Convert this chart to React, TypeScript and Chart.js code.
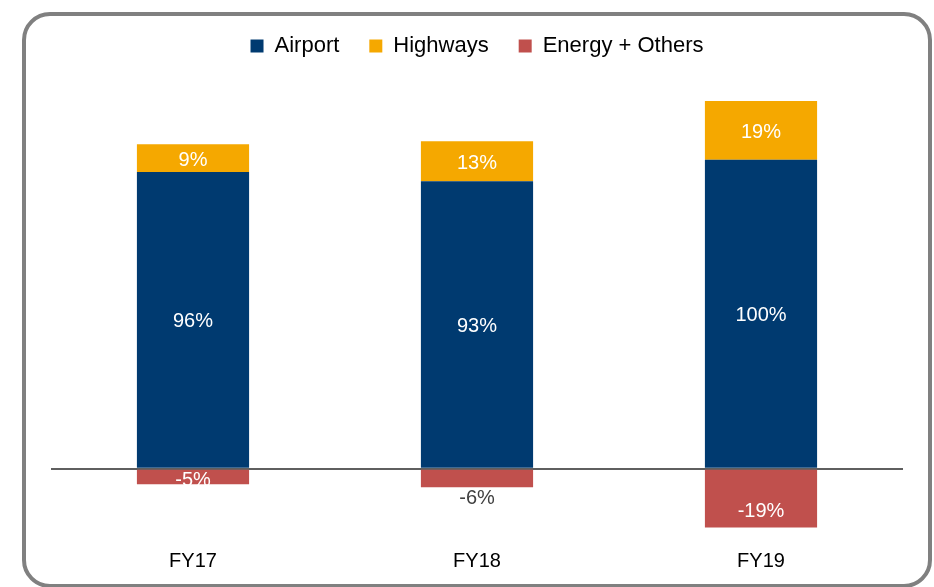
import React, { useEffect, useRef } from 'react';
import { Chart, registerables } from 'chart.js';

Chart.register(...registerables);

const categories = ['FY17', 'FY18', 'FY19'];
const airport = [96, 93, 100];
const highways = [9, 13, 19];
const energyOthers = [-5, -6, -19];

const FONT = '"Liberation Sans", Arial, sans-serif';

const barLabelPlugin = {
  id: 'barLabels',
  afterDatasetsDraw(chart: any) {
    const ctx = chart.ctx;
    ctx.save();
    ctx.font = `20px ${FONT}`;
    ctx.textAlign = 'center';
    ctx.textBaseline = 'middle';
    chart.data.datasets.forEach((ds: any, di: number) => {
      const meta = chart.getDatasetMeta(di);
      meta.data.forEach((el: any, i: number) => {
        const v = ds.data[i];
        const { x, y, base } = el.getProps(['x', 'y', 'base'], true);
        const anchor = ds.labelAnchor ? ds.labelAnchor[i] : 'center';
        let ty = (y + base) / 2 + 2;
        let color = '#ffffff';
        if (anchor === 'outside') {
          ty = Math.max(y, base) + 11;
          color = '#404040';
        } else if (anchor === 'end') {
          ty = Math.max(y, base) - 16;
        } else if (anchor === 'lowcenter') {
          ty = (y + base) / 2 + 4;
        }
        ctx.fillStyle = color;
        ctx.fillText(`${v}%`, x, ty);
      });
    });
    ctx.restore();
  },
};

export default function App() {
  const canvasRef = useRef<HTMLCanvasElement | null>(null);

  useEffect(() => {
    if (!canvasRef.current) return;
    const chart = new Chart(canvasRef.current, {
      type: 'bar',
      data: {
        labels: categories,
        datasets: [
          {
            label: 'Airport',
            data: airport,
            backgroundColor: '#003A70',
            borderWidth: 0,
          },
          {
            label: 'Highways',
            data: highways,
            backgroundColor: '#F5A800',
            borderWidth: 0,
          },
          {
            label: 'Energy + Others',
            data: energyOthers,
            backgroundColor: '#C0504D',
            borderWidth: 0,
            labelAnchor: ['lowcenter', 'outside', 'end'],
          } as any,
        ],
      },
      options: {
        responsive: false,
        animation: false,
        layout: { padding: { left: 51, right: 31, top: 5, bottom: 11 } },
        datasets: {
          bar: { categoryPercentage: 1, barPercentage: 0.395 },
        },
        scales: {
          x: {
            stacked: true,
            grid: { display: false, drawTicks: false },
            border: { display: false },
            ticks: {
              color: '#000000',
              font: { family: FONT, size: 20 },
              padding: 3,
            },
          },
          y: {
            stacked: true,
            min: -25,
            max: 130,
            display: true,
            border: { display: false },
            ticks: { display: false, stepSize: 5 },
            grid: {
              drawTicks: false,
              color: (c: any) => (c.tick && c.tick.value === 0 ? '#5f5f5f' : 'rgba(0,0,0,0)'),
              lineWidth: (c: any) => (c.tick && c.tick.value === 0 ? 2 : 0),
            },
          },
        },
        plugins: {
          legend: {
            position: 'top',
            labels: {
              boxWidth: 13,
              boxHeight: 13,
              padding: 30,
              color: '#000000',
              font: { family: FONT, size: 22 },
            },
          },
          tooltip: { enabled: false },
        },
      },
      plugins: [barLabelPlugin],
    });
    return () => chart.destroy();
  }, []);

  return (
    <div
      style={{
        position: 'absolute',
        left: 0,
        top: 0,
        width: 934,
        height: 587,
        background: '#ffffff',
        overflow: 'hidden',
      }}
    >
      <div
        style={{
          position: 'absolute',
          left: 22,
          top: 12,
          width: 910,
          height: 576,
          boxSizing: 'border-box',
          border: '4px solid #808080',
          borderRadius: 28,
        }}
      />
      <canvas
        ref={canvasRef}
        width={934}
        height={587}
        style={{ position: 'absolute', left: 0, top: 0, width: 934, height: 587 }}
      />
    </div>
  );
}
